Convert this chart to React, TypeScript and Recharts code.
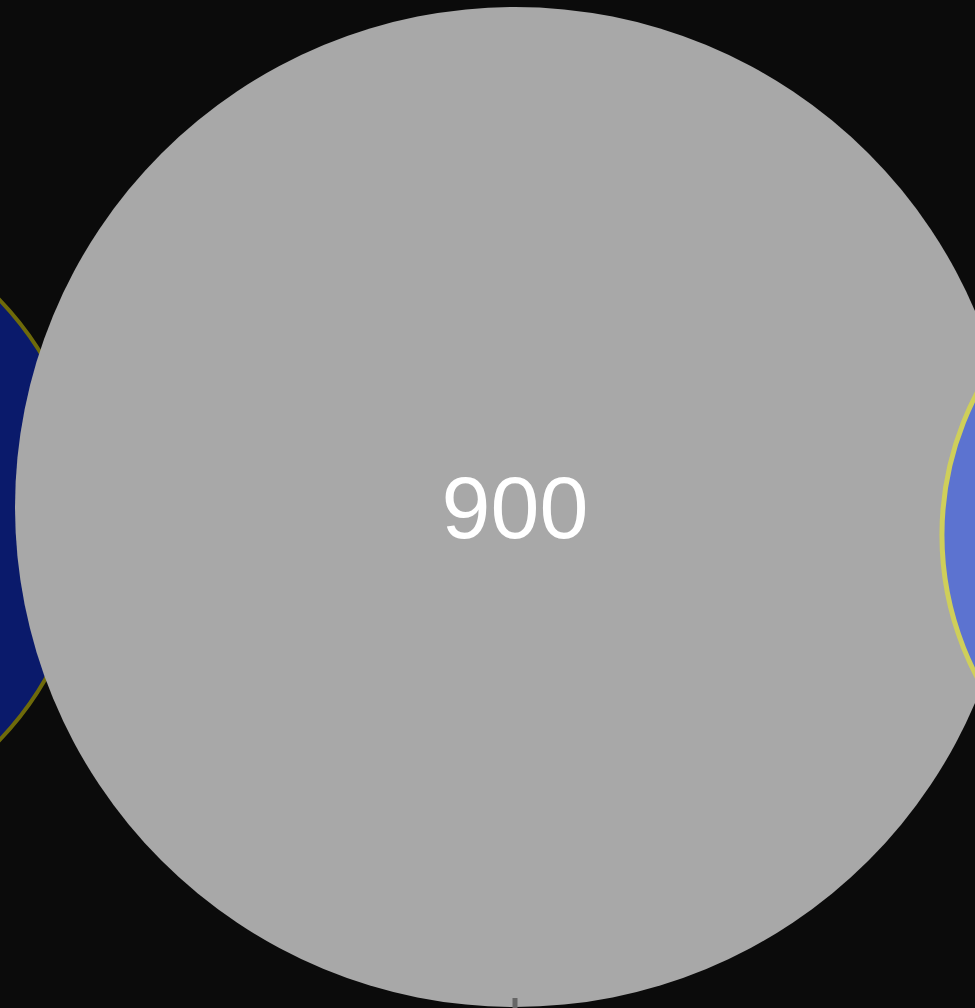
import { ScatterChart, Scatter, XAxis, YAxis, ZAxis, LabelList } from "recharts";

// bubble positions are in pixel-like units (100 units = 100px)
const names = ["left", "main", "right"];
const xValues = [-745, 0, 732];
const yValues = [-13, 0, -28];
const zValues = [364, 900, 335];
const fills = ["#0a1a6b", "#a8a8a8", "#5c73d0"];
const strokes = ["#6e6a0a", "none", "#cfcf5a"];
const strokeWidths = [4, 0, 5];
const xTicks = [0];

const xDomain = [-515, 460];
const yDomain = [-501, 507];

export default function App() {
  return (
    <div
      style={{
        position: "fixed",
        top: 0,
        left: 0,
        width: 975,
        height: 1008,
        background: "#0b0b0b",
        overflow: "hidden"
      }}
    >
      <ScatterChart
        width={975}
        height={1008}
        margin={{ top: 0, right: 0, bottom: 0, left: 0 }}
      >
        <YAxis
          type="number"
          dataKey="y"
          domain={yDomain}
          allowDataOverflow
          hide
        />
        <ZAxis
          type="number"
          dataKey="z"
          domain={[0, 900]}
          range={[0, Math.PI * 500 * 500]}
        />
        {names.map((name, i) => (
          <Scatter
            key={name}
            name={name}
            data={[{ x: xValues[i], y: yValues[i], z: zValues[i] }]}
            fill={fills[i]}
            stroke={strokes[i]}
            strokeWidth={strokeWidths[i]}
            isAnimationActive={false}
          >
            {name === "main" && (
              <LabelList
                dataKey="z"
                position="center"
                fill="#ffffff"
                fontSize={88}
                fontFamily="Liberation Sans, Arial, sans-serif"
              />
            )}
          </Scatter>
        ))}
        {/* mirrored so it takes no room: the plot (and its clip) runs to the bottom edge.
            placed after the bubbles so the tick sits on top */}
        <XAxis
          type="number"
          dataKey="x"
          domain={xDomain}
          ticks={xTicks}
          allowDataOverflow
          mirror
          axisLine={false}
          tickSize={10}
          stroke="#666"
          tickLine={{ stroke: "#666", strokeWidth: 5 }}
          tick={() => <g />}
          zIndex={1000}
        />
      </ScatterChart>
    </div>
  );
}
